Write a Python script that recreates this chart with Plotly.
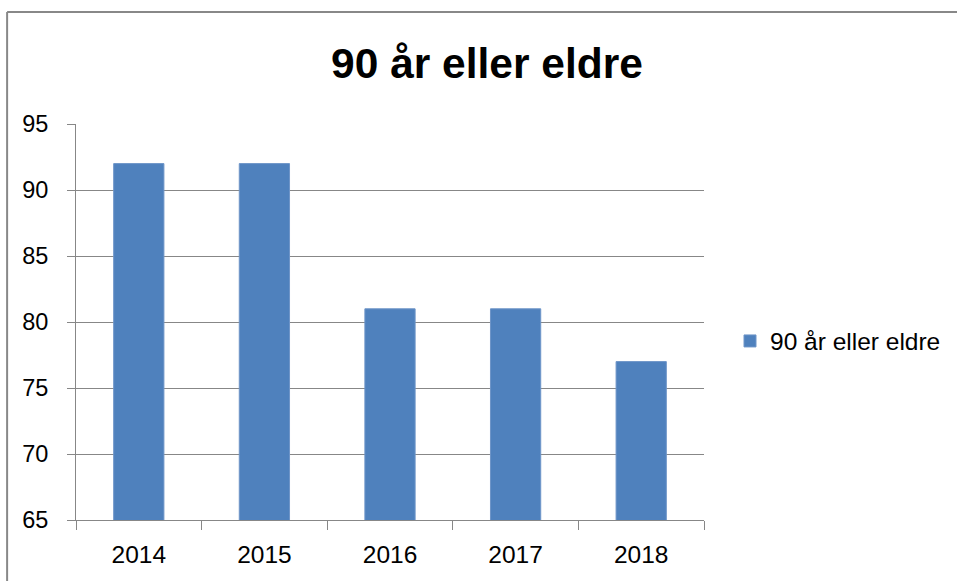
import plotly.graph_objects as go

years = ["2014", "2015", "2016", "2017", "2018"]
values = [92, 92, 81, 81, 77]
series_name = "90 år eller eldre"
title_text = "90 år eller eldre"
y_ticks = [65, 70, 75, 80, 85, 90, 95]

W, H = 957, 581
L, R, T, B = 76, 705, 124, 520

fig = go.Figure()
fig.add_trace(go.Bar(
    x=years, y=values, name=series_name,
    marker=dict(color="#4F81BD", line=dict(color="#6E95C8", width=1)),
    showlegend=True,
))

grid = "#878787"
fig.update_layout(
    width=W, height=H, autosize=False,
    margin=dict(l=L, r=W - R, t=T, b=H - B, pad=0),
    paper_bgcolor="white", plot_bgcolor="white",
    bargap=0.6,
    font=dict(family="Liberation Sans, Arial, sans-serif", color="#000000", size=23),
    title=dict(text="<b>" + title_text + "</b>", x=487 / W, xanchor="center",
               y=1 - 63 / H, yanchor="middle", yref="container", xref="container",
               font=dict(size=42.5, family="Liberation Sans, Arial, sans-serif", color="#000")),
    showlegend=True,
    legend=dict(x=(730 - L) / (R - L), xanchor="left", y=(B - 341) / (B - T), yanchor="middle",
                font=dict(size=24.5), bgcolor="rgba(0,0,0,0)", itemwidth=30),
    xaxis=dict(type="category", showline=True, linecolor=grid, linewidth=1,
               ticks="outside", ticklen=9, tickcolor=grid, tickwidth=1, tickson="boundaries",
               showgrid=False, tickfont=dict(size=24.5), ticklabelstandoff=13),
    yaxis=dict(range=[65, 95], tickvals=y_ticks, showline=True, linecolor=grid, linewidth=1,
               ticks="outside", ticklen=8, tickcolor=grid, tickwidth=1,
               showgrid=True, gridcolor=grid, gridwidth=1, zeroline=False,
               tickfont=dict(size=23.5), ticklabelstandoff=14),
)

# outer chart frame: only top and left edges are visible in the reference
frame = dict(color="#888888", width=2)
x_left = (7 - L) / (R - L)
x_right = (W + 20 - L) / (R - L)
y_top = (B - 12) / (B - T)
y_bottom = (B - H - 20) / (B - T)
fig.add_shape(type="line", xref="paper", yref="paper",
              x0=x_left, x1=x_right, y0=y_top, y1=y_top, line=frame, layer="below")
fig.add_shape(type="line", xref="paper", yref="paper",
              x0=x_left, x1=x_left, y0=y_bottom, y1=y_top, line=frame, layer="below")

fig.write_html("out.html", config={"displayModeBar": False},
               post_script="document.body.style.margin='0';document.body.style.overflow='hidden';")
